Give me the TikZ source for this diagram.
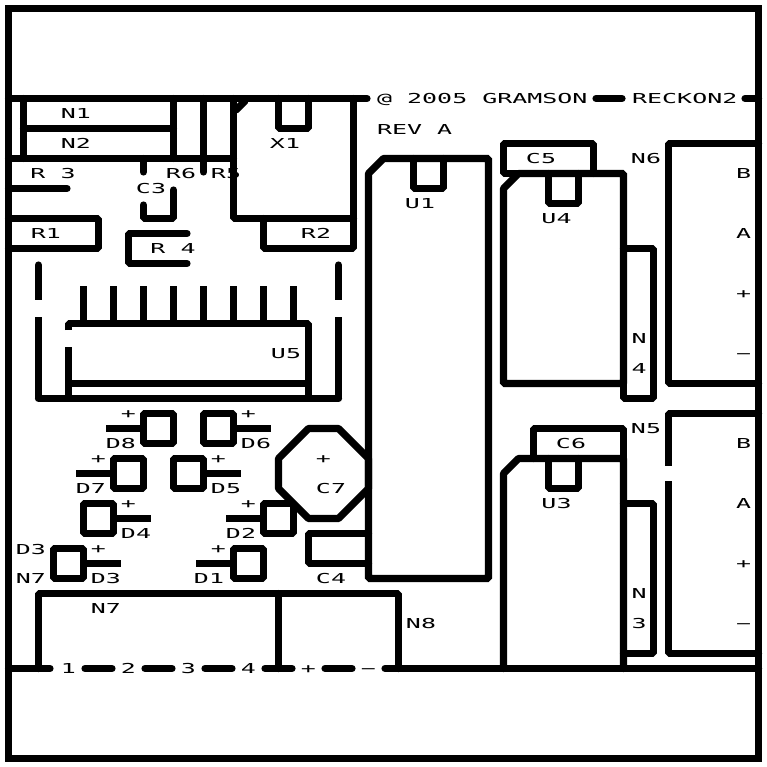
\documentclass[tikz,border=0pt]{standalone}
\usepackage{fontspec}
\newfontfamily\pcbfont[FakeStretch=1.82]{DejaVu Sans Mono}
\tikzset{
  silk/.style={line width=7.2bp,line cap=round},
  flat/.style={silk,line cap=butt},
  lbl/.style={font=\pcbfont\fontsize{13.7bp}{14bp}\selectfont,inner sep=0pt,text height=10bp,text depth=0bp},
  lbll/.style={lbl,anchor=west}
}
\begin{document}
\begin{tikzpicture}[x=1bp,y=-1bp,line join=bevel]
\useasboundingbox (0,0) rectangle (767,767);
  % Board outline
  \draw [silk,line join=miter] (8.5,8.5) -- (758.5,8.5) -- (758.5,758.5) -- (8.5,758.5) -- cycle;
  % Top rail
  \draw [silk] (8.5,98.5) -- (367,98.5);
  \draw [silk] (596,98.5) -- (622,98.5);
  \draw [silk] (745,98.5) -- (758.5,98.5);
  \node (copyr) [lbll] at (377,98.5) {@ 2005 GRAMSON};
  \node (board) [lbll] at (632,98.5) {RECKON2};
  \node (rev) [lbll] at (377,129) {REV A};
  % Bottom rail
  \draw [silk] (8.5,668.5) -- (50,668.5);
  \draw [silk] (85,668.5) -- (112,668.5);
  \draw [silk] (145,668.5) -- (172,668.5);
  \draw [silk] (205,668.5) -- (232,668.5);
  \draw [silk] (265,668.5) -- (292,668.5);
  \draw [silk] (325,668.5) -- (352,668.5);
  \draw [silk] (385,668.5) -- (758.5,668.5);
  \node (pin1) [lbl] at (68.5,668.5) {1};
  \node (pin2) [lbl] at (128.5,668.5) {2};
  \node (pin3) [lbl] at (188.5,668.5) {3};
  \node (pin4) [lbl] at (248.5,668.5) {4};
  \node (pinp) [lbl] at (308.5,668.5) {+};
  \node (pinm) [lbl] at (368.5,668.5) {−};
  % Part: N1, N2
  \draw [silk] (23.5,98.5) -- (23.5,158.5);
  \draw [silk] (173.5,98.5) -- (173.5,158.5);
  \draw [silk] (23.5,128.5) -- (173.5,128.5);
  \draw [silk] (8.5,158.5) -- (233.5,158.5);
  \node (n1) [lbl] at (76,113.5) {N1};
  \node (n2) [lbl] at (76,143.5) {N2};
  % Part: R3, R5, R6, C3
  \draw [silk] (203.5,98.5) -- (203.5,172);
  \draw [silk] (143.5,158.5) -- (143.5,172);
  \draw [silk] (8.5,188.5) -- (67,188.5);
  \draw [silk] (173.5,190) -- (173.5,218.5) -- (143.5,218.5) -- (143.5,205);
  \node (r3) [lbl] at (53,173.5) {R 3};
  \node (r6) [lbl] at (181,173.5) {R6};
  \node (r5) [lbl] at (226,173.5) {R5};
  \node (c3) [lbl] at (151,188.5) {C3};
  % Part: X1
  \draw [silk] (233.5,98.5) -- (233.5,218.5) -- (353.5,218.5);
  \draw [silk] (353.5,98.5) -- (353.5,248.5) -- (263.5,248.5) -- (263.5,218.5);
  \draw [silk] (236,110) -- (245,101);
  \draw [silk] (278.5,98.5) -- (278.5,128.5) -- (308.5,128.5) -- (308.5,98.5);
  \node (x1) [lbl] at (285,143.5) {X1};
  \node (r2) [lbl] at (316,233.5) {R2};
  % Part: R1
  \draw [silk] (8.5,218.5) -- (98.5,218.5) -- (98.5,248.5) -- (8.5,248.5);
  \node (r1) [lbl] at (46,233.5) {R1};
  % Part: R4
  \draw [silk] (187,233.5) -- (128.5,233.5) -- (128.5,263.5) -- (187,263.5);
  \node (r4) [lbl] at (173,248.5) {R 4};
  % Part: U5
  \draw [silk] (38.5,265) -- (38.5,285);
  \draw [flat] (38.5,285) -- (38.5,300);
  \draw [flat] (338.5,285) -- (338.5,300);
  \draw [silk] (338.5,265) -- (338.5,285);
  \draw [flat] (38.5,317) -- (38.5,398.5);
  \draw [flat] (338.5,317) -- (338.5,398.5);
  \draw [silk] (38.5,398.5) -- (338.5,398.5);
  \draw [flat] (83.5,286) -- (83.5,323.5);
  \draw [flat] (113.5,286) -- (113.5,323.5);
  \draw [flat] (143.5,286) -- (143.5,323.5);
  \draw [flat] (173.5,286) -- (173.5,323.5);
  \draw [flat] (203.5,286) -- (203.5,323.5);
  \draw [flat] (233.5,286) -- (233.5,323.5);
  \draw [flat] (263.5,286) -- (263.5,323.5);
  \draw [flat] (293.5,286) -- (293.5,323.5);
  \draw [flat] (68.5,330) -- (68.5,323.5) -- (308.5,323.5) -- (308.5,398.5);
  \draw [flat] (68.5,347) -- (68.5,398.5);
  \draw [flat] (68.5,383.5) -- (308.5,383.5);
  \node (u5) [lbl] at (286,353.5) {U5};
  % Part: D8
  \draw [silk] (143.5,413.5) -- (173.5,413.5) -- (173.5,443.5) -- (143.5,443.5) -- cycle;
  \draw [flat] (106,428.5) -- (143.5,428.5);
  \node (d8p) [lbl] at (128.5,413) {+};
  \node (d8) [lbl] at (121,443.5) {D8};
  % Part: D6
  \draw [silk] (203.5,413.5) -- (233.5,413.5) -- (233.5,443.5) -- (203.5,443.5) -- cycle;
  \draw [flat] (233.5,428.5) -- (271,428.5);
  \node (d6p) [lbl] at (248.5,413) {+};
  \node (d6) [lbl] at (256,443.5) {D6};
  % Part: D7
  \draw [silk] (113.5,458.5) -- (143.5,458.5) -- (143.5,488.5) -- (113.5,488.5) -- cycle;
  \draw [flat] (76,473.5) -- (113.5,473.5);
  \node (d7p) [lbl] at (98.5,458) {+};
  \node (d7) [lbl] at (91,488.5) {D7};
  % Part: D5
  \draw [silk] (173.5,458.5) -- (203.5,458.5) -- (203.5,488.5) -- (173.5,488.5) -- cycle;
  \draw [flat] (203.5,473.5) -- (241,473.5);
  \node (d5p) [lbl] at (218.5,458) {+};
  \node (d5) [lbl] at (226,488.5) {D5};
  % Part: D4
  \draw [silk] (83.5,503.5) -- (113.5,503.5) -- (113.5,533.5) -- (83.5,533.5) -- cycle;
  \draw [flat] (113.5,518.5) -- (151,518.5);
  \node (d4p) [lbl] at (128.5,503) {+};
  \node (d4) [lbl] at (136,533.5) {D4};
  % Part: D2
  \draw [silk] (263.5,503.5) -- (293.5,503.5) -- (293.5,533.5) -- (263.5,533.5) -- cycle;
  \draw [flat] (226,518.5) -- (263.5,518.5);
  \node (d2p) [lbl] at (248.5,503) {+};
  \node (d2) [lbl] at (241,533.5) {D2};
  % Part: D3
  \draw [silk] (53.5,548.5) -- (83.5,548.5) -- (83.5,578.5) -- (53.5,578.5) -- cycle;
  \draw [flat] (83.5,563.5) -- (121,563.5);
  \node (d3p) [lbl] at (98.5,548) {+};
  \node (d3) [lbl] at (106,578.5) {D3};
  \node (d3b) [lbl] at (31,549) {D3};
  \node (n7b) [lbl] at (31,578.5) {N7};
  % Part: D1
  \draw [silk] (233.5,548.5) -- (263.5,548.5) -- (263.5,578.5) -- (233.5,578.5) -- cycle;
  \draw [flat] (196,563.5) -- (233.5,563.5);
  \node (d1p) [lbl] at (218.5,548) {+};
  \node (d1) [lbl] at (209,578.5) {D1};
  % Part: C7
  \draw [silk] (308.5,428.5) -- (338.5,428.5) -- (368.5,458.5) -- (368.5,488.5) -- (338.5,518.5) -- (308.5,518.5) -- (278.5,488.5) -- (278.5,458.5) -- cycle;
  \node (c7p) [lbl] at (323.5,458) {+};
  \node (c7) [lbl] at (331,488.5) {C7};
  % Part: C4
  \draw [silk] (368.5,533.5) -- (308.5,533.5) -- (308.5,563.5) -- (368.5,563.5);
  \node (c4) [lbl] at (331,578.5) {C4};
  % Part: U1
  \draw [silk] (368.5,173.5) -- (383.5,158.5) -- (488.5,158.5) -- (488.5,578.5) -- (368.5,578.5) -- cycle;
  \draw [silk] (413.5,158.5) -- (413.5,188.5) -- (443.5,188.5) -- (443.5,158.5);
  \node (u1) [lbl] at (420,203.5) {U1};
  % Part: U4, C5
  \draw [silk] (503.5,188.5) -- (518.5,173.5) -- (623.5,173.5) -- (623.5,383.5) -- (503.5,383.5) -- cycle;
  \draw [silk] (593.5,173.5) -- (593.5,143.5) -- (503.5,143.5) -- (503.5,173.5) -- (518.5,173.5);
  \draw [silk] (548.5,173.5) -- (548.5,203.5) -- (578.5,203.5) -- (578.5,173.5);
  \node (c5) [lbl] at (541,158.5) {C5};
  \node (u4) [lbl] at (556.5,218.5) {U4};
  % Part: N4
  \draw [silk] (623.5,248.5) -- (653.5,248.5) -- (653.5,398.5) -- (623.5,398.5) -- (623.5,383.5);
  \node (n4a) [lbl] at (639,338.5) {N};
  \node (n4b) [lbl] at (639,368.5) {4};
  % Part: N6
  \draw [silk] (758.5,143.5) -- (668.5,143.5) -- (668.5,383.5) -- (758.5,383.5);
  \node (n6) [lbl] at (646,158.5) {N6};
  \node (n6b) [lbl] at (743.5,173.5) {B};
  \node (n6a) [lbl] at (743.5,233.5) {A};
  \node (n6p) [lbl] at (743.5,293.5) {+};
  \node (n6m) [lbl] at (743.5,353.5) {−};
  % Part: U3, C6
  \draw [silk] (503.5,668.5) -- (503.5,473.5) -- (518.5,458.5) -- (623.5,458.5) -- (623.5,668.5);
  \draw [silk] (533.5,458.5) -- (533.5,428.5) -- (623.5,428.5) -- (623.5,458.5);
  \draw [silk] (548.5,458.5) -- (548.5,488.5) -- (578.5,488.5) -- (578.5,458.5);
  \node (c6) [lbl] at (571,443.5) {C6};
  \node (u3) [lbl] at (556.5,503.5) {U3};
  \node (n5) [lbl] at (646,428.5) {N5};
  % Part: N3
  \draw [silk] (623.5,503.5) -- (653.5,503.5) -- (653.5,653.5) -- (623.5,653.5);
  \node (n3a) [lbl] at (639,593.5) {N};
  \node (n3b) [lbl] at (639,623.5) {3};
  % Part: N5
  \draw [silk] (758.5,413.5) -- (668.5,413.5) -- (668.5,460);
  \draw [flat] (668.5,460) -- (668.5,466);
  \draw [flat] (668.5,481) -- (668.5,490);
  \draw [silk] (668.5,490) -- (668.5,653.5) -- (758.5,653.5);
  \node (n5b) [lbl] at (743.5,443.5) {B};
  \node (n5a) [lbl] at (743.5,503.5) {A};
  \node (n5p) [lbl] at (743.5,563.5) {+};
  \node (n5m) [lbl] at (743.5,623.5) {−};
  % Part: N7, N8
  \draw [silk] (38.5,668.5) -- (38.5,593.5) -- (398.5,593.5) -- (398.5,668.5);
  \draw [silk] (278.5,593.5) -- (278.5,668.5);
  \node (n7) [lbl] at (106,608.5) {N7};
  \node (n8) [lbl] at (421,623.5) {N8};
\end{tikzpicture}
\end{document}
